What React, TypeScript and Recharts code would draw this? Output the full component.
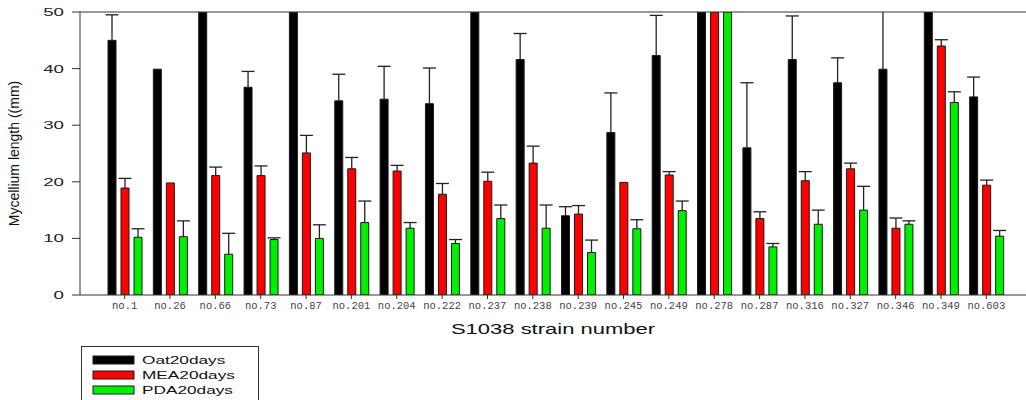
import React from 'react';
import { BarChart, Bar, XAxis, YAxis, Legend, ReferenceLine, Rectangle } from 'recharts';

// Strain numbers along the x axis
const strains = [
  'no.1', 'no.26', 'no.66', 'no.73', 'no.87', 'no.201', 'no.204', 'no.222', 'no.237', 'no.238',
  'no.239', 'no.245', 'no.249', 'no.278', 'no.287', 'no.316', 'no.327', 'no.346', 'no.349', 'no.603',
];

// Mycelium length (mm) after 20 days, per medium; bars reaching the top of the axis are capped at 50
const oat20 = [45.0, 39.9, 50, 36.7, 50, 34.3, 34.6, 33.8, 50, 41.6, 14.0, 28.7, 42.3, 50, 26.0, 41.6, 37.5, 39.9, 50, 35.0];
const oat20Err = [4.5, 0, 0, 2.8, 0, 4.7, 5.8, 6.3, 0, 4.6, 1.6, 7.0, 7.1, 0, 11.5, 7.7, 4.4, 12.0, 0, 3.5];

const mea20 = [18.9, 19.8, 21.1, 21.1, 25.1, 22.3, 21.9, 17.8, 20.1, 23.3, 14.3, 19.9, 21.2, 50, 13.5, 20.2, 22.3, 11.8, 44.0, 19.4];
const mea20Err = [1.7, 0, 1.5, 1.7, 3.1, 2.0, 1.0, 1.9, 1.6, 3.0, 1.5, 0, 0.6, 0, 1.2, 1.6, 1.0, 1.8, 1.1, 0.9];

const pda20 = [10.2, 10.3, 7.2, 9.8, 10.0, 12.8, 11.8, 9.1, 13.5, 11.8, 7.5, 11.7, 14.9, 50, 8.5, 12.5, 15.0, 12.5, 34.0, 10.4];
const pda20Err = [1.5, 2.8, 3.7, 0.3, 2.4, 3.8, 1.0, 0.7, 2.4, 4.1, 2.2, 1.6, 1.7, 0, 0.6, 2.5, 4.2, 0.6, 1.9, 1.0];

const yTicks = [0, 10, 20, 30, 40, 50];

const seriesInfo = [
  { key: 'oat', errKey: 'oatErr', name: 'Oat20days', color: '#000000' },
  { key: 'mea', errKey: 'meaErr', name: 'MEA20days', color: '#ff0000' },
  { key: 'pda', errKey: 'pdaErr', name: 'PDA20days', color: '#00f000' },
];

const rows = strains.map((s, i) => ({
  strain: s,
  oat: oat20[i],
  oatErr: oat20Err[i],
  mea: mea20[i],
  meaErr: mea20Err[i],
  pda: pda20[i],
  pdaErr: pda20Err[i],
}));

const SANS = '"Liberation Sans", Arial, Helvetica, sans-serif';
const MONO = '"Liberation Mono", "Courier New", monospace';

// Bar with an upward-only error whisker, scaled from the bar's own pixel height
const barWithError = (valueKey: string, errKey: string, color: string) => (props: any) => {
  const { x, y, width, height, payload } = props;
  const v = payload[valueKey];
  const e = payload[errKey];
  const cx = x + width / 2;
  const errPx = v > 0 ? (e / v) * height : 0;
  const top = y - errPx;
  return (
    <g>
      <Rectangle x={x} y={y} width={width} height={height} fill={color} stroke="#1a1a1a" strokeWidth={1} />
      {e > 0 && (
        <g stroke="#222" strokeWidth={1.3}>
          <line x1={cx} y1={y} x2={cx} y2={top} />
          <line x1={cx - 6.5} y1={top} x2={cx + 6.5} y2={top} />
        </g>
      )}
    </g>
  );
};

const YTick = (props: any) => {
  const { x, y, payload } = props;
  return (
    <g transform={`translate(${x},${y}) scale(1.7,1)`}>
      <text x={0} y={0} dy="0.36em" textAnchor="end" fontFamily={SANS} fontSize={11} fill="#222">
        {payload.value}
      </text>
    </g>
  );
};

const XTick = (props: any) => {
  const { x, y, payload } = props;
  return (
    <text x={x} y={y} dy={8} textAnchor="middle" fontFamily={MONO} fontSize={10.5} fill="#444">
      {payload.value}
    </text>
  );
};

const LegendBox = () => (
  <div style={{ width: 178, height: 62, border: '1px solid #333', background: '#fff', boxSizing: 'border-box' }}>
    <svg width={176} height={60}>
      {seriesInfo.map((s, i) => (
        <g key={s.key} transform={`translate(0,${i * 15})`}>
          <rect x={11} y={9} width={41} height={8} fill={s.color} stroke="#1a1a1a" strokeWidth={1} />
          <g transform="translate(60,17) scale(1.5,1)">
            <text x={0} y={0} fontFamily={SANS} fontSize={11.5} fill="#111">{s.name}</text>
          </g>
        </g>
      ))}
    </svg>
  </div>
);

export default function App() {
  return (
    <div>
      <style>{'body{margin:0}'}</style>
      <BarChart
        width={1026}
        height={400}
        data={rows}
        margin={{ top: 12, right: 0, bottom: 65, left: 0 }}
        barSize={8}
        barGap={5}
      >
        <XAxis
          dataKey="strain"
          height={40}
          padding={{ left: 22, right: 17 }}
          axisLine={{ stroke: '#333' }}
          tickLine={{ stroke: '#333' }}
          tickSize={4}
          tickMargin={2}
          interval={0}
          tick={<XTick />}
          label={{
            content: (p: any) => {
              const vb = p.viewBox;
              const cx = vb.x + vb.width / 2;
              return (
                <g transform={`translate(${cx},${vb.y + 39}) scale(1.42,1)`}>
                  <text x={0} y={0} textAnchor="middle" fontFamily={SANS} fontSize={15.5} fill="#111">
                    S1038 strain number
                  </text>
                </g>
              );
            },
          }}
        />
        <YAxis
          width={80}
          domain={[0, 50]}
          ticks={yTicks}
          allowDataOverflow
          axisLine={{ stroke: '#333' }}
          tickLine={{ stroke: '#333' }}
          tickSize={8}
          tickMargin={8}
          tick={<YTick />}
          label={{
            content: (p: any) => {
              const vb = p.viewBox;
              const lx = vb.x + 19;
              const ly = vb.y + vb.height / 2;
              return (
                <text
                  x={lx}
                  y={ly}
                  transform={`rotate(-90 ${lx} ${ly})`}
                  textAnchor="middle"
                  fontFamily={SANS}
                  fontSize={14}
                  fill="#111"
                >
                  Mycellium length ((mm)
                </text>
              );
            },
          }}
        />
        {seriesInfo.map((s) => (
          <Bar
            key={s.key}
            dataKey={s.key}
            name={s.name}
            fill={s.color}
            isAnimationActive={false}
            shape={barWithError(s.key, s.errKey, s.color)}
          />
        ))}
        <ReferenceLine y={50} stroke="#333" strokeWidth={1} />
        <Legend
          layout="horizontal"
          verticalAlign="middle"
          align="center"
          content={<LegendBox />}
          wrapperStyle={{ left: 81, top: 346, width: 178 }}
        />
      </BarChart>
    </div>
  );
}
